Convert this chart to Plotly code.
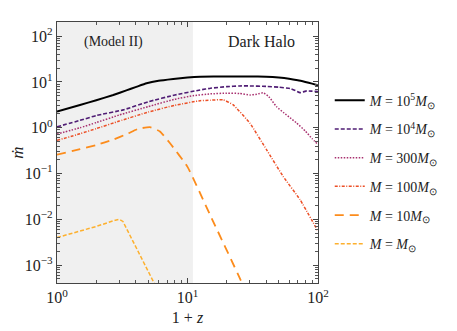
import plotly.graph_objects as go

# ---- data ----
x_m1e5 = [1, 1.5, 2, 2.7, 3.4, 4, 4.86, 6, 7.78, 10, 12.5, 20, 30, 40, 50, 60, 70, 80, 90, 100]
y_m1e5 = [2.26, 3.15, 4.0, 5.2, 6.55, 7.7, 9.35, 10.6, 11.6, 12.5, 13.0, 13.2, 13.2, 13.0, 12.5, 11.8, 10.9, 10.0, 9.2, 8.5]

x_m1e4 = [1, 1.5, 2, 3.22, 5, 8, 12.5, 15, 20, 25, 30, 40, 50, 61, 67, 72.8, 82, 90, 100]
y_m1e4 = [1.05, 1.45, 1.85, 2.46, 3.7, 5.2, 6.7, 7.3, 7.9, 8.2, 8.2, 8.0, 7.7, 7.2, 6.5, 5.85, 6.4, 6.3, 6.15]

x_m300 = [1, 1.5, 2, 3, 5, 8, 11, 15, 20, 25, 30, 34, 38, 42, 48, 55, 61, 68.6, 80, 90, 100]
y_m300 = [0.73, 1.0, 1.3, 1.9, 2.9, 4.2, 5.0, 5.5, 5.7, 5.6, 5.2, 5.4, 5.8, 4.8, 2.9, 2.1, 1.66, 1.27, 0.85, 0.58, 0.43]

x_m100 = [1, 1.5, 2, 3, 5, 8, 12.5, 15, 18.7, 22.3, 30, 40.4, 54, 72.8, 100]
y_m100 = [0.53, 0.74, 0.96, 1.4, 2.2, 3.1, 3.9, 4.0, 4.1, 3.2, 1.27, 0.33, 0.087, 0.027, 0.0055]

x_m10 = [1, 1.5, 2, 2.7, 3.5, 4.2, 5.16, 6.15, 7.3, 10, 15, 25.3, 30]
y_m10 = [0.26, 0.34, 0.42, 0.55, 0.75, 0.95, 1.03, 0.83, 0.47, 0.14, 0.012, 5e-4, 1.6e-4]

x_m1 = [1, 2, 2.8, 3.0, 3.2, 5.5, 7]
y_m1 = [4.0e-3, 7.0e-3, 9.6e-3, 1.0e-2, 9.0e-3, 4.0e-4, 1.1e-4]

series = [
    (x_m1e5, y_m1e5, "<i>M</i> = 10<sup>5</sup><i>M</i><sub>⊙</sub>", "#000000", "solid", 2.0, "spline"),
    (x_m1e4, y_m1e4, "<i>M</i> = 10<sup>4</sup><i>M</i><sub>⊙</sub>", "#4f1c74", "4px,2px", 1.6, "spline"),
    (x_m300, y_m300, "<i>M</i> = 300<i>M</i><sub>⊙</sub>", "#a8306f", "1.5px,1.5px", 1.5, "spline"),
    (x_m100, y_m100, "<i>M</i> = 100<i>M</i><sub>⊙</sub>", "#ec4f26", "3px,1.5px,1px,1.5px", 1.5, "spline"),
    (x_m10, y_m10, "<i>M</i> = 10<i>M</i><sub>⊙</sub>", "#fc8c1c", "9px,6px", 1.8, "spline"),
    (x_m1, y_m1, "<i>M</i> = <i>M</i><sub>⊙</sub>", "#fdb02e", "4px,2px", 1.5, "linear"),
]

tick_vals_x = [1, 10, 100]
tick_text_x = ["10<sup>0</sup>", "10<sup>1</sup>", "10<sup>2</sup>"]
tick_vals_y = [1e-3, 1e-2, 1e-1, 1, 10, 100]
tick_text_y = ["10<sup>−3</sup>", "10<sup>−2</sup>", "10<sup>−1</sup>", "10<sup>0</sup>", "10<sup>1</sup>", "10<sup>2</sup>"]
minor_x = [m * d for d in (1, 10) for m in range(2, 10)]
minor_y = [m * d for d in (1e-4, 1e-3, 1e-2, 1e-1, 1, 10, 100) for m in range(2, 10)]

FONT = "Liberation Serif"

fig = go.Figure()
for i, (xs, ys, name, color, dash, w, shape) in enumerate(series):
    line = dict(color=color, dash=dash, width=w, shape=shape)
    if shape == "spline":
        line["smoothing"] = 0.4
    fig.add_trace(go.Scatter(x=xs, y=ys, mode="lines", name=name, legendgroup=f"g{i}", line=line))

# shaded (Model II) region, z < 10
fig.add_shape(type="rect", xref="x", yref="paper", x0=1, x1=11, y0=0, y1=1,
              fillcolor="#f0f0f0", line=dict(width=0), layer="below")

fig.add_annotation(x=0.215, y=0.925, xref="paper", yref="paper", text="(Model II)",
                   xanchor="center", yanchor="middle",
                   showarrow=False, font=dict(family=FONT, size=14, color="#222"))
fig.add_annotation(x=0.785, y=0.925, xref="paper", yref="paper", text="Dark Halo",
                   xanchor="center", yanchor="middle",
                   showarrow=False, font=dict(family=FONT, size=16, color="#222"))

axis_common = dict(
    type="log", showgrid=False, zeroline=False, showline=True, linecolor="#444",
    linewidth=1.2, mirror="ticks", ticks="inside", ticklen=5, tickcolor="#444",
    tickfont=dict(family=FONT, size=16, color="#222"), automargin=False,
)

fig.update_xaxes(**axis_common, range=[0, 2], tickvals=tick_vals_x, ticktext=tick_text_x,
                 minor=dict(ticks="inside", ticklen=2.5, tickcolor="#555", tickvals=minor_x, showgrid=False),
                 title=dict(text="1 + <i>z</i>", font=dict(family=FONT, size=16, color="#222"), standoff=6))
fig.update_yaxes(**axis_common, range=[-3.39, 2.31], tickvals=tick_vals_y, ticktext=tick_text_y,
                 minor=dict(ticks="inside", ticklen=2.5, tickcolor="#555", tickvals=minor_y, showgrid=False),
                 title=dict(text="<i>ṁ</i>", font=dict(family=FONT, size=17, color="#222"), standoff=6))

# the page body adds an 8px offset, so the figure is 8px smaller and shifted margins
fig.update_layout(
    width=449, height=323,
    margin=dict(l=49, r=139, t=14, b=48, autoexpand=False),
    paper_bgcolor="white", plot_bgcolor="white",
    font=dict(family=FONT, color="#222"),
    legend=dict(x=1.045, y=0.76, xanchor="left", yanchor="top",
                font=dict(family=FONT, size=14, color="#222"),
                tracegroupgap=7.5, bgcolor="rgba(0,0,0,0)"),
    showlegend=True,
)

fig.write_html("out.html")
